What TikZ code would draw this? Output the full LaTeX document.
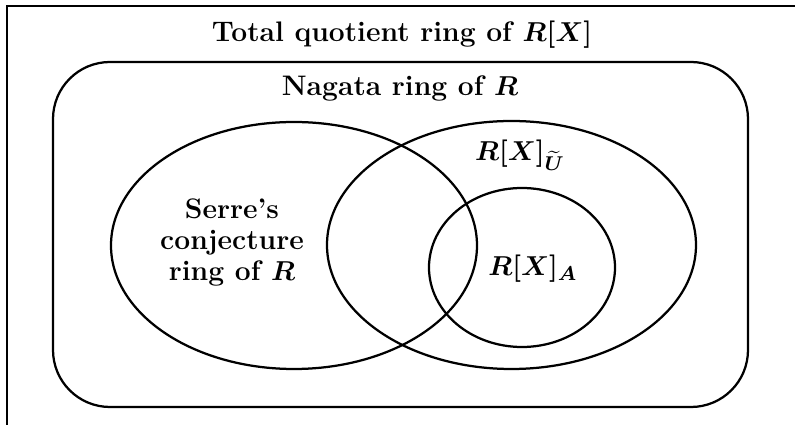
\documentclass[tikz,border=0pt]{standalone}
\usepackage{amsmath,amssymb}
\usepackage{tikz}
\usetikzlibrary{positioning}

\begin{document}
\begin{tikzpicture}[x=0.4pt,y=-0.4pt,
    venn/.style={line width=0.9pt},
    lbl/.style={font=\fontsize{11.3}{12.4}\selectfont\bfseries\boldmath,align=center}]
  \useasboundingbox (0,0) rectangle (795,425);
  \clip (0,0) rectangle (795,425);
  % frame of the total quotient ring, cut off right and below
  \draw[venn] (7,440) -- (7,6) -- (810,6);
  \draw[venn,rounded corners=22.8pt] (53,62) rectangle (748,407);
  \draw[venn] (294,245.5) ellipse [x radius=183, y radius=123.5];
  \draw[venn] (511.5,245) ellipse [x radius=184.5, y radius=124];
  \draw[venn] (522,267.5) ellipse [x radius=93, y radius=79.5];
  \node[lbl,anchor=base] (total) at (402,42) {Total quotient ring of $R[X]$};
  \node[lbl,anchor=base] (nagata) at (400,96) {Nagata ring of $R$};
  \node[lbl] (serre) at (232,242) {Serre's\\conjecture\\ring of $R$};
  \node[lbl,anchor=base] (utilde) at (520,161) {$R[X]_{\widetilde{U}}$};
  \node[lbl,anchor=base] (ringA) at (533,276) {$R[X]_A$};
\end{tikzpicture}
\end{document}
